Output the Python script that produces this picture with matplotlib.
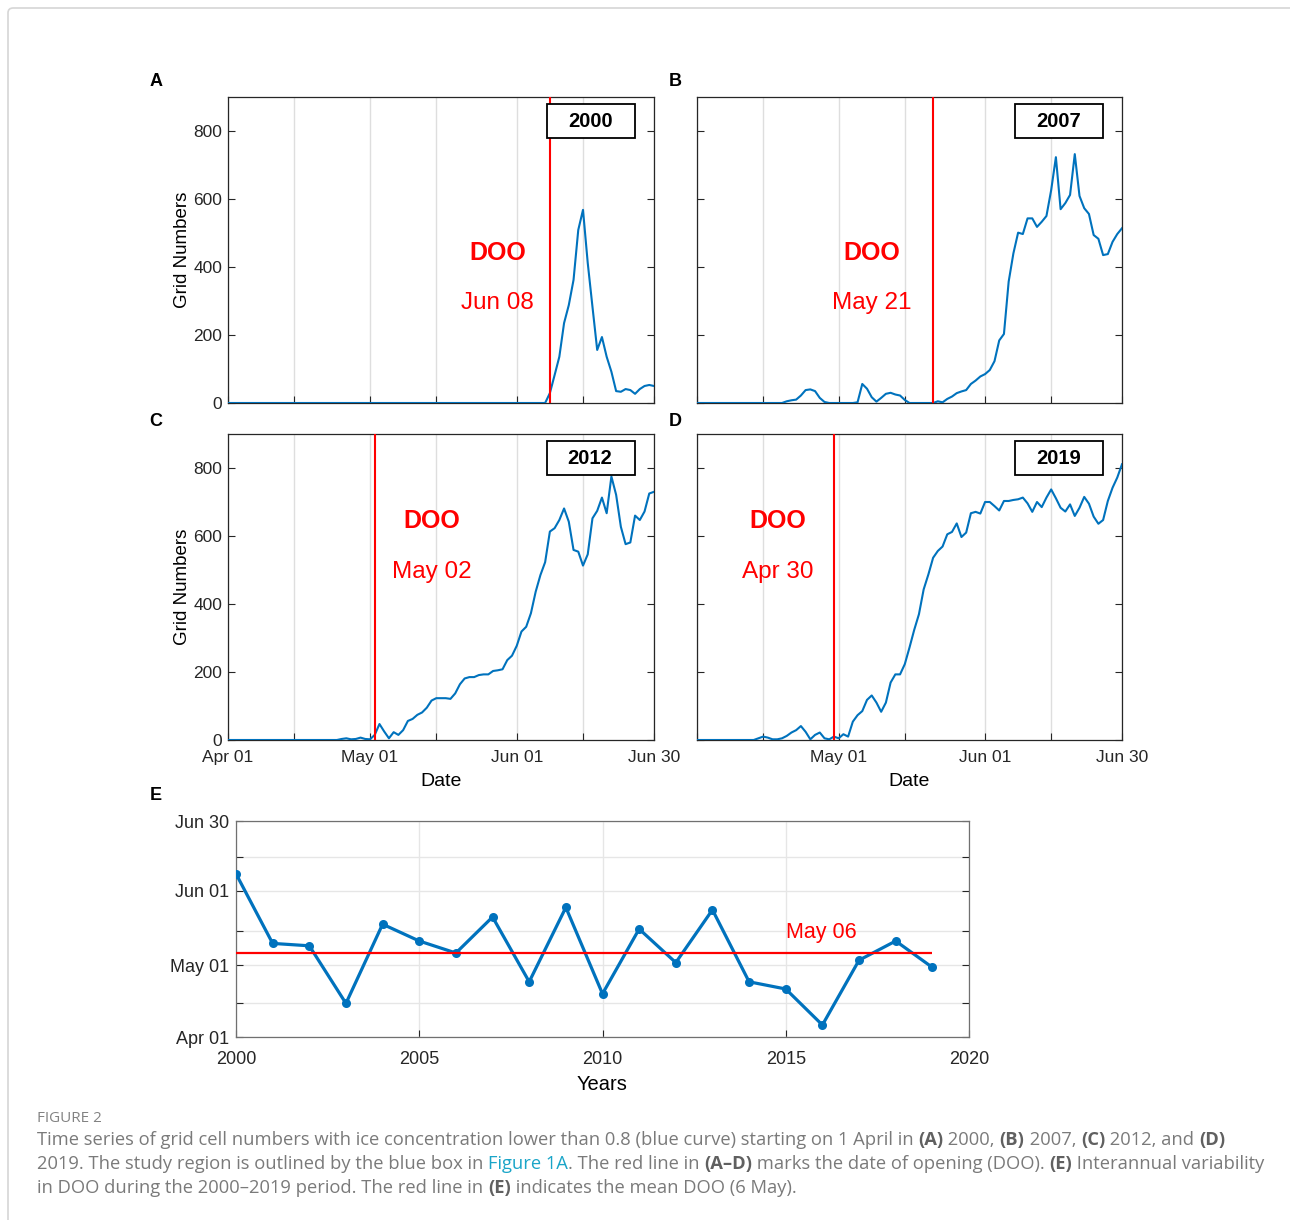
import datetime as dt

import numpy as np
import matplotlib
matplotlib.use("Agg")
import matplotlib.pyplot as plt
from matplotlib.patches import Rectangle, FancyBboxPatch

plt.rcParams['font.family'] = ['Liberation Sans', 'DejaVu Sans']

# grid cells with ice concentration < 0.8, daily from Apr 01 (day 0) to Jun 30 (day 90)
years = [2000, 2007, 2012, 2019]
cells_2000 = [0] * 68 + [29, 82, 136, 235, 288, 362, 509, 568, 412, 283, 156, 194, 136, 92,
                         35, 33, 41, 38, 27, 41, 50, 53, 50]
cells_2007 = [0] * 19 + [5, 8, 10, 22, 38, 40, 35, 15, 3, 0, 0, 0, 0, 0, 0, 2, 56, 42, 17, 4,
                         15, 27, 30, 25, 22, 9, 0, 0, 0, 0, 0, 0, 5, 2, 12, 19, 29, 34, 38, 56,
                         66, 78, 85, 97, 123, 184, 203, 357, 440, 501, 497, 543, 543, 518, 533,
                         550, 626, 723, 570, 588, 612, 732, 609, 573, 556, 494, 483, 435, 438,
                         474, 497, 514]
cells_2012 = [0] * 24 + [3, 5, 2, 3, 7, 3, 2, 15, 47, 25, 5, 23, 15, 29, 56, 62, 74, 81, 95,
                         116, 123, 123, 123, 121, 137, 164, 181, 185, 185, 191, 193, 193, 203,
                         205, 208, 235, 248, 277, 319, 333, 373, 436, 485, 523, 613, 623, 647,
                         681, 642, 559, 554, 513, 546, 652, 674, 713, 667, 775, 721, 627, 576,
                         581, 660, 647, 672, 725, 730]
cells_2019 = [0] * 13 + [5, 10, 7, 2, 2, 5, 12, 22, 29, 41, 24, 2, 15, 22, 5, 2, 10, 5, 17, 10,
                         54, 73, 85, 118, 131, 110, 83, 110, 169, 193, 193, 223, 272, 324, 370,
                         443, 487, 536, 556, 569, 605, 612, 637, 597, 610, 667, 671, 666, 700,
                         700, 688, 675, 703, 703, 706, 708, 713, 696, 671, 700, 685, 713, 737,
                         711, 683, 672, 693, 659, 683, 715, 695, 657, 636, 647, 703, 742, 772,
                         811]
series = [cells_2000, cells_2007, cells_2012, cells_2019]

# date of opening, days after Apr 01, 2000-2019
doo_years = list(range(2000, 2020))
doo_days = [68, 39, 38, 14, 47, 40, 35, 50, 23, 54, 18, 45, 31, 53, 23, 20, 5, 32, 40, 29]

day_ticks = [0, 14, 30, 44, 61, 75, 90]
day_labels = ['Apr 01', '', 'May 01', '', 'Jun 01', '', 'Jun 30']

BLUE = '#0072BD'
RED = '#ff0000'


def day_text(d):
    return (dt.date(2000, 4, 1) + dt.timedelta(days=int(round(d)))).strftime('%b %d')


fig = plt.figure(figsize=(12.9, 12.2), dpi=100)
W, H = 1290, 1220

# light frame around the figure
fig.patches.append(FancyBboxPatch((8 / W, -0.05), 1.1, 1 - 8 / H + 0.05, boxstyle='round,pad=0,rounding_size=0.004',
                                  transform=fig.transFigure, fc='none', ec='#d6d6d6', lw=1.2))


def px_axes(l, t, r, b):
    return fig.add_axes([l / W, 1 - b / H, (r - l) / W, (b - t) / H])


boxes = [(228, 97, 654, 403), (697, 97, 1122, 403), (228, 434, 654, 740), (697, 434, 1122, 740)]
letters = ['A', 'B', 'C', 'D']
letter_pos = [(156, 82), (675, 82), (156, 422), (675, 422)]
# text x positions (days) for the DOO labels in each panel, and y for the two lines
doo_txt_x = [57, 37, 43, 17]
doo_txt_y = [[442, 295], [442, 295], [645, 495], [645, 495]]

for i, (yr, vals) in enumerate(zip(years, series)):
    ax = px_axes(*boxes[i])
    d = doo_days[doo_years.index(yr)]
    ax.plot(np.arange(len(vals)), vals, color=BLUE, lw=1.5, zorder=3)
    ax.axvline(d, color=RED, lw=1.5, zorder=4)
    ax.set_xlim(0, 90)
    ax.set_ylim(0, 900)
    ax.set_xticks(day_ticks)
    ax.set_yticks([0, 200, 400, 600, 800])
    ax.grid(axis='x', color='#dedede', lw=1)
    ax.tick_params(direction='in', top=False, right=True, length=5, width=0.8,
                   labelsize=12.5, colors='#262626')
    ax.tick_params(axis='x', pad=7)
    ax.tick_params(axis='y', pad=4)
    for s in ax.spines.values():
        s.set_color('#262626')
        s.set_linewidth(0.9)
    if i >= 2:
        labs = list(day_labels)
        if i == 3:
            labs[0] = ''
        ax.set_xticklabels(labs)
        ax.set_xlabel('Date', fontsize=14, labelpad=6)
    else:
        ax.set_xticklabels([])
    if i % 2 == 0:
        ax.set_ylabel('Grid Numbers', fontsize=13.5, labelpad=2)
    else:
        ax.set_yticklabels([])
    ax.text(doo_txt_x[i], doo_txt_y[i][0], 'DOO', color=RED, fontsize=18, fontweight='bold',
            ha='center', va='center')
    ax.text(doo_txt_x[i], doo_txt_y[i][1], day_text(d), color=RED, fontsize=17.5,
            ha='center', va='center')
    ax.add_patch(Rectangle((0.749, 0.866), 0.207, 0.111, transform=ax.transAxes,
                           fc='white', ec='black', lw=1.3, zorder=5))
    ax.text(0.85, 0.921, str(yr), transform=ax.transAxes, fontsize=14.5, fontweight='bold',
            ha='center', va='center', zorder=6)
    lx, ly = letter_pos[i]
    fig.text(lx / W, 1 - ly / H, letters[i], fontsize=13, fontweight='bold', ha='center', va='center')

# panel E: interannual DOO
axe = px_axes(236, 821, 969, 1037)
axe.plot(doo_years, doo_days, '-o', color=BLUE, lw=2.3, ms=5, mfc=BLUE, mew=1.5, zorder=3)
mean_doo = np.mean(doo_days)
axe.hlines(mean_doo, doo_years[0], doo_years[-1], color=RED, lw=1.6, zorder=4)
axe.text(2015, mean_doo + 8.5, day_text(mean_doo), color=RED, fontsize=15.5, ha='left', va='center')
axe.set_xlim(2000, 2020)
axe.set_ylim(0, 90)
axe.set_xticks([2000, 2005, 2010, 2015, 2020])
axe.set_yticks(day_ticks)
axe.set_yticklabels(day_labels)
axe.grid(color='#e6e6e6', lw=1)
axe.tick_params(direction='in', right=True, length=5, width=0.8, labelsize=13, colors='#262626')
axe.tick_params(axis='x', pad=10)
axe.tick_params(axis='y', pad=5)
for s in axe.spines.values():
    s.set_color('#707070')
    s.set_linewidth(0.9)
axe.set_xlabel('Years', fontsize=14.5, labelpad=5)
fig.text(156 / W, 1 - 795 / H, 'E', fontsize=13, fontweight='bold', ha='center', va='center')

# caption
cap_font = ['Open Sans', 'DejaVu Sans']
GRAY = '#7a7a7a'
fig.text(37 / W, 1 - 1118 / H, 'FIGURE 2', fontsize=11, color='#828282', family=cap_font,
         ha='left', va='center')

cap_lines = [
    [('Time series of grid cell numbers with ice concentration lower than 0.8 (blue curve) starting on 1 April in ', 'n'),
     ('(A)', 'b'), (' 2000, ', 'n'), ('(B)', 'b'), (' 2007, ', 'n'), ('(C)', 'b'), (' 2012, and ', 'n'), ('(D)', 'b')],
    [('2019. The study region is outlined by the blue box in ', 'n'), ('Figure 1A', 'l'),
     ('. The red line in ', 'n'), ('(A\u2013D)', 'b'), (' marks the date of opening (DOO). ', 'n'), ('(E)', 'b'),
     (' Interannual variability', 'n')],
    [('in DOO during the 2000\u20132019 period. The red line in ', 'n'), ('(E)', 'b'),
     (' indicates the mean DOO (6 May).', 'n')],
]
fig.canvas.draw()
renderer = fig.canvas.get_renderer()
for k, pieces in enumerate(cap_lines):
    x = 37 / W
    y = 1 - (1140 + 24 * k) / H
    for s, kind in pieces:
        t = fig.text(x, y, s, fontsize=13.2, family=cap_font, ha='left', va='center',
                     color='#1aa5c8' if kind == 'l' else ('#606060' if kind == 'b' else GRAY),
                     fontweight='bold' if kind == 'b' else 'normal')
        x += t.get_window_extent(renderer).width / W

fig.savefig('out.png', dpi=100, facecolor='white')
